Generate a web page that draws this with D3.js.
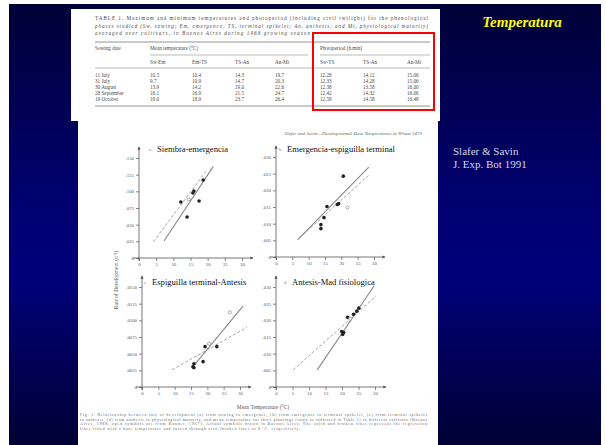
<!DOCTYPE html>
<html><head><meta charset="utf-8">
<script src="https://cdn.jsdelivr.net/npm/d3@7"></script>
<style>html,body{margin:0;padding:0;background:#fff;overflow:hidden}</style>
</head><body>
<script>
// ---------- data ----------
const slideTitle = "Temperatura";
const citation = ["Slafer & Savin", "J. Exp. Bot 1991"];
const xTicks = [0, 5, 10, 15, 20, 25, 30];
const panelNames = ["Siembra-emergencia", "Emergencia-espiguilla terminal", "Espiguilla terminal-Antesis", "Antesis-Mad fisiologica"];
const panelLetters = ["a", "b", "c", "d"];
const yTicksA = [0, 0.025, 0.05, 0.075, 0.1, 0.125, 0.15];
const yTicksB = [0, 0.005, 0.01, 0.015, 0.02, 0.025, 0.03];
const yTicksC = [0, 0.0025, 0.005, 0.0075, 0.01, 0.0125, 0.015];
const yTicksD = [0, 0.005, 0.01, 0.015, 0.02, 0.025, 0.03];
const pointsA = [[12.2,0.084],[16.0,0.1005],[15.7,0.0975],[18.7,0.117],[14.0,0.0615],[17.5,0.0855]];
const openA = [[14.5,0.088]];
const solidA = [[7.3,0.0255],[21.6,0.137]];
const dashedA = [[4.2,0.0245],[19.5,0.130]];
const pointsB = [[20.6,0.02425],[15.6,0.01515],[18.75,0.01575],[14.7,0.0118],[13.75,0.0097],[13.75,0.0085],[19.2,0.016]];
const openB = [[21.9,0.01485]];
const solidB = [[6.6,0.00515],[28.4,0.02695]];
const dashedB = [[7.2,0.00575],[28.75,0.02485]];
const pointsC = [[19.3,0.00605],[22.9,0.00605],[18.7,0.0038],[15.9,0.00348],[15.6,0.00303],[15.9,0.00288]];
const openC = [[26.9,0.0112],[20.5,0.0065]];
const solidC = [[15.3,0.00288],[30.9,0.01213]];
const dashedC = [[9.2,0.00258],[32.1,0.00895]];
const pointsD = [[20.5,0.01635],[20.2,0.01575],[19.9,0.01665],[21.7,0.0209],[23.5,0.0218],[24.5,0.02275],[25.1,0.02365]];
const openD = [[22.5,0.0205]];
const solidD = [[12.5,0.00515],[29.7,0.0303]];
const dashedD = [[5.2,0.00515],[30.3,0.02725]];
const tableTitle = ["TABLE 1. Maximum and minimum temperatures and photoperiod (including civil twilight) for the phenological",
  "phases studied (Sw, sowing; Em, emergence; TS, terminal spikelet; An, anthesis; and Mt, physiological maturity)",
  "averaged over cultivars, in Buenos Aires during 1988 growing season"];
const tableHeads = ["Sw-Em", "Em-TS", "TS-An", "An-Mt", "Sw-TS", "TS-An", "An-Mt"];
const sowingDates = ["11 July", "31 July", "30 August", "28 September", "19 October"];
const tempSwEm = ["10.5", "9.7", "13.9", "16.1", "18.0"];
const tempEmTS = ["10.4", "10.9", "14.2", "16.9", "18.9"];
const tempTSAn = ["14.3", "14.7", "19.0", "21.5", "23.7"];
const tempAnMt = ["19.7", "20.3", "22.6", "24.7", "26.4"];
const photoSwTS = ["12.28", "12.33", "12.38", "12.42", "12.58"];
const photoTSAn = ["14.12", "14.28", "13.58", "14.32", "14.58"];
const photoAnMt = ["15.06", "15.06", "16.00", "16.06", "16.48"];
const chartHeader = "Slafer and Savin\u2014Developmental Base Temperatures in Wheat      1479";
const xAxisTitle = "Mean Temperature (\u00b0C)";
const yAxisTitle = "Rate of Development (d\u207b\u00b9)";
const caption = [
  "Fig. 1. Relationship between rate of development (a) from sowing to emergence, (b) from emergence to terminal spikelet, (c) from terminal spikelet",
  "to anthesis, (d) from anthesis to physiological maturity, and mean temperature for three plantings (sown as indicated in Table 1) in different cultivars (Buenos",
  "Aires, 1988; open symbols are from Bonnet, 1967). Actual symbols drawn in Buenos Aires. The solid and broken lines represent the regression",
  "lines fitted with a base temperature and forced through zero (broken line) or 0 \u00b0C, respectively."];

// ---------- drawing ----------
const W = 606, H = 445;
const svg = d3.select("body").append("svg").attr("width", W).attr("height", H)
  .style("font-family", "'Liberation Serif','Times New Roman',serif");
const defs = svg.append("defs");
const grad = defs.append("linearGradient").attr("id", "bg").attr("x1", 0).attr("x2", 0).attr("y1", 0).attr("y2", 1);
[[0, "#000038"], [0.45, "#000070"], [0.62, "#00007a"], [1, "#000034"]].forEach(([o, c]) =>
  grad.append("stop").attr("offset", o).attr("stop-color", c));
const mk = defs.append("marker").attr("id", "arr").attr("viewBox", "0 0 6 6").attr("refX", 5).attr("refY", 3)
  .attr("markerWidth", 4).attr("markerHeight", 4).attr("orient", "auto");
mk.append("path").attr("d", "M0,0L6,3L0,6Z").attr("fill", "#555");

svg.append("rect").attr("width", W).attr("height", H).attr("fill", "#fff");
svg.append("rect").attr("x", 9).attr("y", 4).attr("width", 592).attr("height", 441).attr("fill", "url(#bg)");

// slide texts
svg.append("text").attr("x", 522).attr("y", 27).attr("text-anchor", "middle")
  .attr("font-size", 15).attr("font-weight", "bold").attr("font-style", "italic").attr("fill", "#ffff00").text(slideTitle);
citation.forEach((t, i) => svg.append("text").attr("x", 453).attr("y", 155 + i * 13)
  .attr("font-size", 11).attr("fill", "#d6d6e6").text(t));

// ---------- table image ----------
svg.append("rect").attr("x", 71).attr("y", 9).attr("width", 369).attr("height", 112).attr("fill", "#fff");
const tb = svg.append("g").attr("fill", "#4a4a4a").attr("font-size", 5.2);
tableTitle.forEach((t, i) => tb.append("text").attr("x", 95).attr("y", 20 + i * 7.5)
  .attr("font-style", i === 0 ? "normal" : "italic").attr("textLength", i === 2 ? 215 : 333).text(t));
const rule = (x1, x2, y, w) => tb.append("line").attr("x1", x1).attr("x2", x2).attr("y1", y).attr("y2", y)
  .attr("stroke", "#777").attr("stroke-width", w);
rule(95, 430, 42, 0.8); rule(150, 308, 55, 0.5); rule(320, 430, 55, 0.5); rule(95, 430, 68, 0.5); rule(95, 430, 106, 0.8);
tb.append("text").attr("x", 95).attr("y", 50).text("Sowing date");
tb.append("text").attr("x", 150).attr("y", 50).text("Mean temperature (\u00b0C)");
tb.append("text").attr("x", 320).attr("y", 50).text("Photoperiod (h.min)");
const colX = [150, 192, 235, 275, 320, 363, 407];
tableHeads.forEach((h, i) => tb.append("text").attr("x", colX[i]).attr("y", 64).text(h));
const cols = [tempSwEm, tempEmTS, tempTSAn, tempAnMt, photoSwTS, photoTSAn, photoAnMt];
sowingDates.forEach((d, r) => {
  const y = 77 + r * 6;
  tb.append("text").attr("x", 95).attr("y", y).text(d);
  cols.forEach((c, i) => tb.append("text").attr("x", colX[i]).attr("y", y).text(c[r]));
});
svg.append("rect").attr("x", 313).attr("y", 33).attr("width", 121).attr("height", 77)
  .attr("fill", "none").attr("stroke", "#ff0000").attr("stroke-width", 2);

// ---------- chart image ----------
svg.append("rect").attr("x", 78).attr("y", 120).attr("width", 360).attr("height", 325).attr("fill", "#fff");
const ch = svg.append("g");
ch.append("text").attr("x", 422).attr("y", 135).attr("text-anchor", "end").attr("font-size", 5)
  .attr("font-style", "italic").attr("fill", "#666").text(chartHeader);

const panels = [
  {ox: 139, oy: 258, xw: 103, yt: yTicksA, dec: 3, pts: pointsA, open: openA, solid: solidA, dashed: dashedA, lx: 157, ly: 152},
  {ox: 276, oy: 257, xw: 98, yt: yTicksB, dec: 3, pts: pointsB, open: openB, solid: solidB, dashed: dashedB, lx: 287, ly: 152},
  {ox: 142, oy: 387, xw: 98, yt: yTicksC, dec: 4, pts: pointsC, open: openC, solid: solidC, dashed: dashedC, lx: 152, ly: 285},
  {ox: 276, oy: 387, xw: 99, yt: yTicksD, dec: 3, pts: pointsD, open: openD, solid: solidD, dashed: dashedD, lx: 292, ly: 285}
];
panels.forEach((p, k) => {
  const fmt = v => v === 0 ? "0" : v.toFixed(p.dec).replace(/^0/, "");
  const x = d3.scaleLinear().domain([0, 30]).range([p.ox, p.ox + p.xw]);
  const y = d3.scaleLinear().domain([0, p.yt[p.yt.length - 1]]).range([p.oy, p.oy - 100]);
  const g = ch.append("g");
  const ax = g.append("g").attr("transform", `translate(0,${p.oy})`)
    .call(d3.axisBottom(x).tickValues(xTicks).tickSize(3).tickPadding(2));
  const ay = g.append("g").attr("transform", `translate(${p.ox},0)`)
    .call(d3.axisLeft(y).tickValues(p.yt).tickSize(3).tickPadding(2).tickFormat(fmt));
  [ax, ay].forEach(a => {
    a.select(".domain").remove();
    a.selectAll("line").attr("stroke", "#555").attr("stroke-width", 0.7);
    a.selectAll("text").attr("font-size", 4.8).attr("fill", "#555").attr("font-family", "'Liberation Serif',serif");
  });
  g.append("line").attr("x1", p.ox - 6).attr("x2", p.ox + p.xw + 11).attr("y1", p.oy).attr("y2", p.oy)
    .attr("stroke", "#555").attr("stroke-width", 0.8).attr("marker-end", "url(#arr)");
  g.append("line").attr("x1", p.ox).attr("x2", p.ox).attr("y1", p.oy + 3).attr("y2", p.oy - 111)
    .attr("stroke", "#555").attr("stroke-width", 0.8).attr("marker-end", "url(#arr)");
  const ln = d3.line().x(d => x(d[0])).y(d => y(d[1]));
  g.append("path").attr("d", ln(p.dashed)).attr("fill", "none").attr("stroke", "#999")
    .attr("stroke-width", 0.9).attr("stroke-dasharray", "3,2");
  g.append("path").attr("d", ln(p.solid)).attr("fill", "none").attr("stroke", "#888").attr("stroke-width", 1.1);
  g.selectAll(".pt").data(p.pts).join("circle").attr("cx", d => x(d[0])).attr("cy", d => y(d[1]))
    .attr("r", 1.8).attr("fill", "#222");
  g.selectAll(".op").data(p.open).join("circle").attr("cx", d => x(d[0])).attr("cy", d => y(d[1]))
    .attr("r", 1.6).attr("fill", "#fff").attr("stroke", "#777").attr("stroke-width", 0.6);
  g.append("text").attr("x", p.lx - 8).attr("y", p.ly - 1).attr("font-size", 5).attr("fill", "#888").text(panelLetters[k]);
  g.append("text").attr("x", p.lx).attr("y", p.ly).attr("font-size", 8.6).attr("fill", "#111").text(panelNames[k]);
});
ch.append("text").attr("transform", "translate(118,280) rotate(-90)").attr("text-anchor", "middle")
  .attr("font-size", 5.5).attr("fill", "#555").text(yAxisTitle);
ch.append("text").attr("x", 263).attr("y", 409).attr("text-anchor", "middle")
  .attr("font-size", 5.5).attr("fill", "#555").text(xAxisTitle);
caption.forEach((t, i) => ch.append("text").attr("x", 80).attr("y", 416 + i * 4.5).attr("font-size", 4)
  .attr("fill", "#666").attr("textLength", i === 3 ? 220 : 347).text(t));
</script>
</body></html>
